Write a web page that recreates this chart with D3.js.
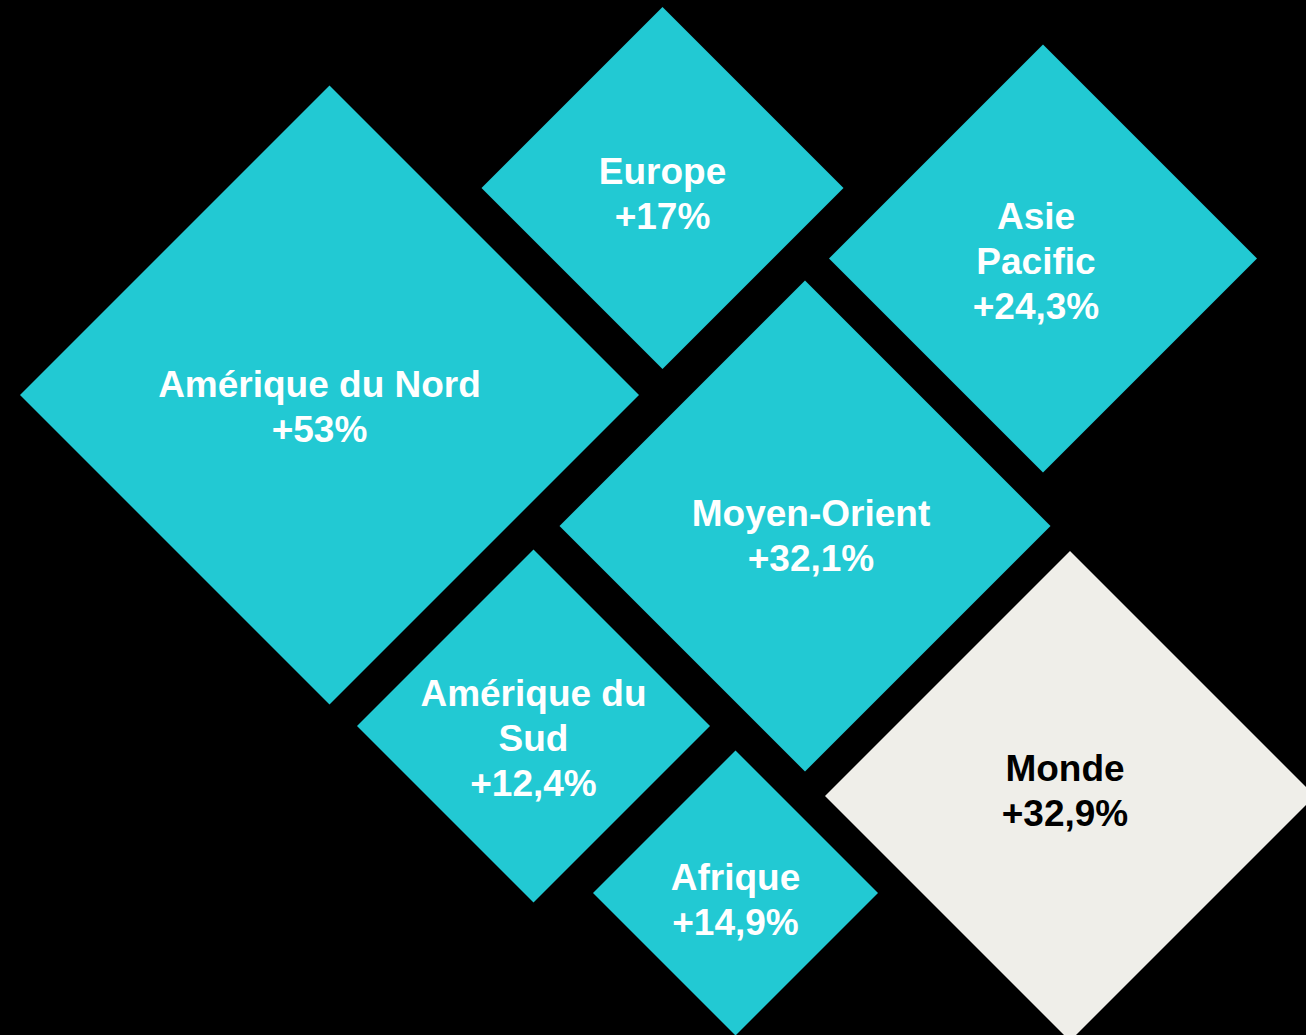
<!DOCTYPE html>
<html>
<head>
<meta charset="utf-8">
<script src="https://cdn.jsdelivr.net/npm/d3@7"></script>
<style>
  html, body { margin: 0; padding: 0; background: #000; }
  #chart { width: 1306px; height: 1035px; }
  .label { font-family: "Liberation Sans", Arial, sans-serif; font-weight: bold; font-size: 37px; }
</style>
</head>
<body>
<div id="chart"></div>
<script>
// data
const regions = ["Amérique du Nord", "Europe", "Asie\nPacific", "Moyen-Orient", "Amérique du\nSud", "Afrique", "Monde"];
const growth = [53, 17, 24.3, 32.1, 12.4, 14.9, 32.9];
const isWorld = [false, false, false, false, false, false, true];

// hand layout of the infographic (design units = px of the 1306x1035 artboard)
// [cx, cy, half diagonal, label dx, label first-baseline dy]
const layout = [
  [329.5, 395, 309.5, -10, 2],
  [662.5, 188, 181, 0, -4],
  [1043, 258.5, 214, -7, -30],
  [805, 526, 245.5, 6, 0],
  [533.5, 726, 176.5, 0, -20],
  [735.5, 893, 142.5, 0, -3],
  [1070, 796, 245, -5, -15]
];

const width = 1306;
const height = 1035;
const lineHeight = 45;

const teal = "#22c9d3";
const world = "#efeee9";

const fr = d3.formatLocale({ decimal: ",", thousands: " ", grouping: [3], currency: ["", " €"] });
const pct = v => fr.format("+")(v) + "%";

const x = d3.scaleLinear().domain([0, 1306]).range([0, width]);
const y = d3.scaleLinear().domain([0, 1035]).range([0, height]);

const svg = d3.select("#chart")
  .append("svg")
  .attr("width", width)
  .attr("height", height)
  .style("background", "#000");

const items = regions.map((name, i) => ({
  name,
  value: growth[i],
  world: isWorld[i],
  cx: layout[i][0], cy: layout[i][1], r: layout[i][2],
  dx: layout[i][3], dy: layout[i][4]
}));

const line = d3.line().x(p => x(p[0])).y(p => y(p[1]));

const diamond = d => line([
  [d.cx, d.cy - d.r],
  [d.cx + d.r, d.cy],
  [d.cx, d.cy + d.r],
  [d.cx - d.r, d.cy]
]) + "Z";

const groups = svg.selectAll("g.tile")
  .data(items)
  .join("g")
  .attr("class", "tile");

groups.append("path")
  .attr("d", diamond)
  .attr("fill", d => d.world ? world : teal);

groups.append("text")
  .attr("class", "label")
  .attr("text-anchor", "middle")
  .attr("fill", d => d.world ? "#000" : "#fff")
  .each(function(d) {
    const lines = d.name.split("\n").concat([pct(d.value)]);
    d3.select(this).selectAll("tspan")
      .data(lines)
      .join("tspan")
      .attr("x", x(d.cx + d.dx))
      .attr("y", (t, j) => y(d.cy + d.dy + j * lineHeight))
      .text(t => t);
  });
</script>
</body>
</html>
